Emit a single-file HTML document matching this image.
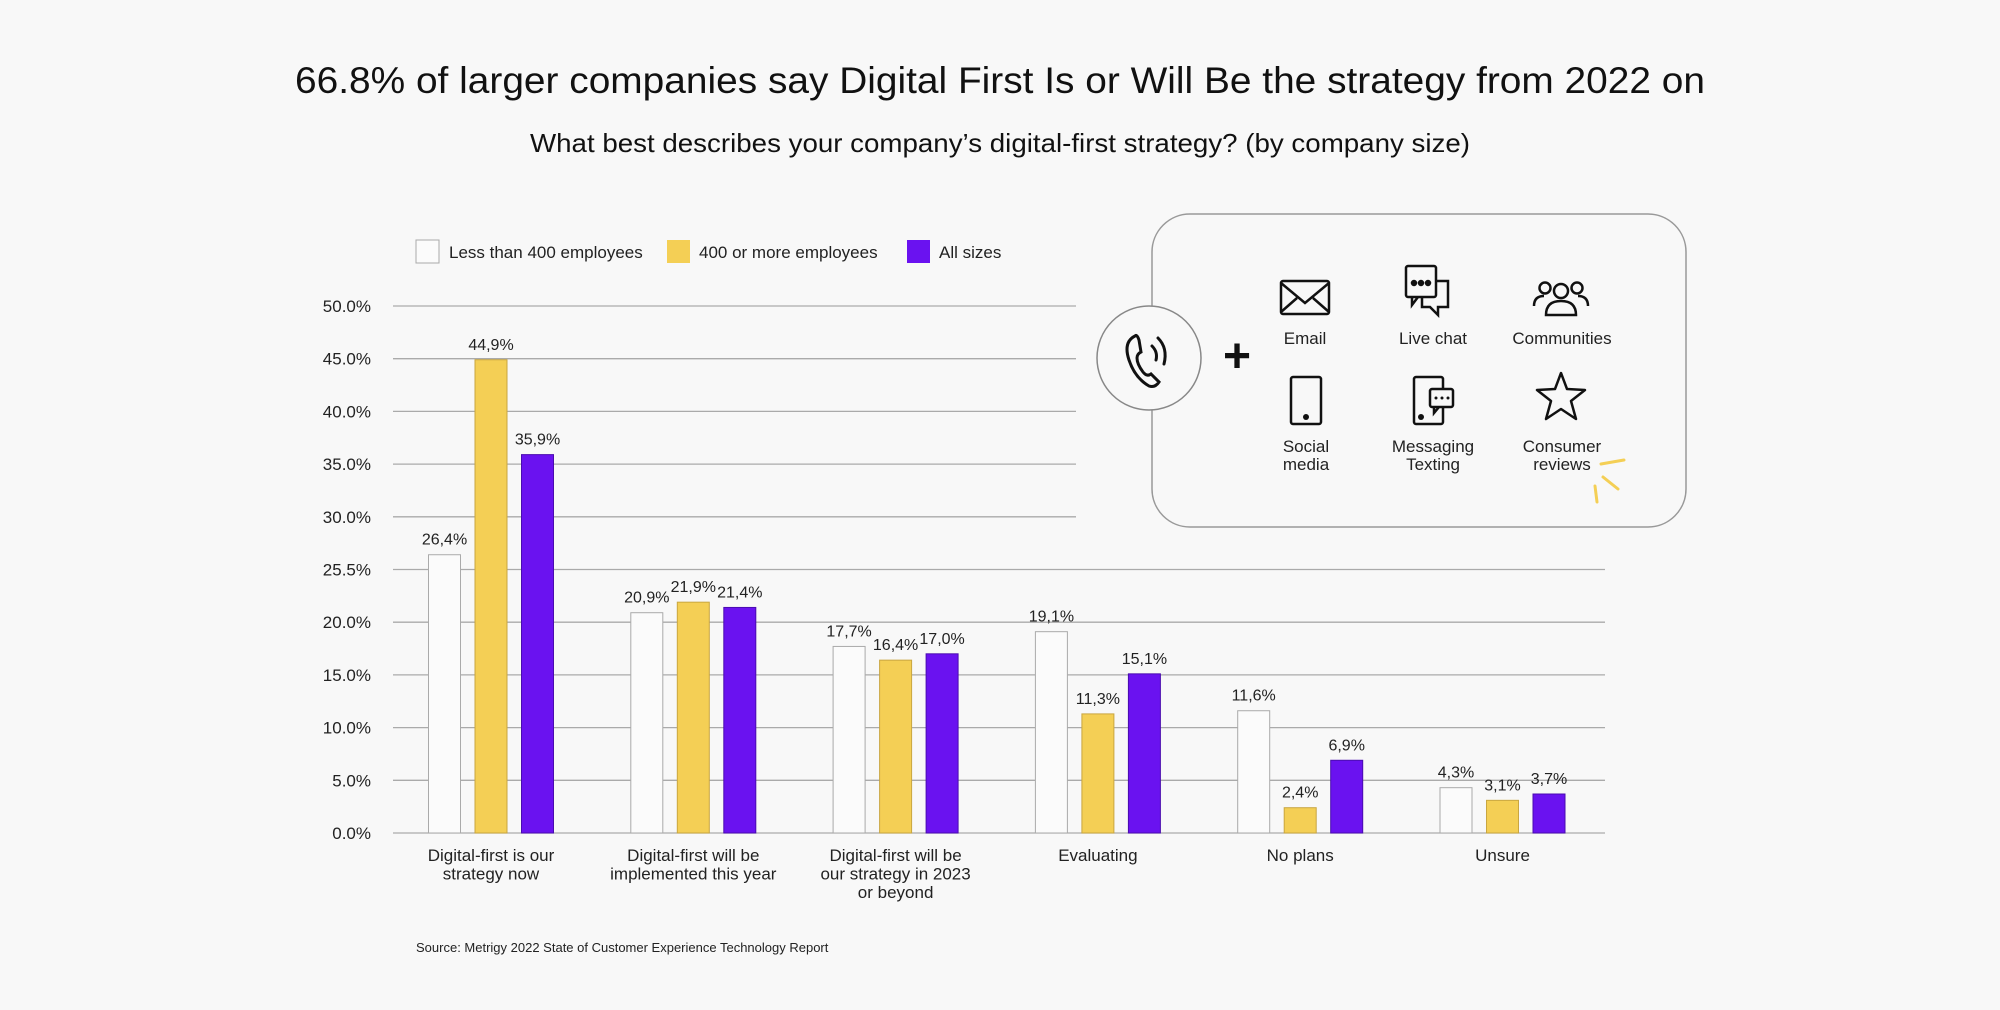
<!DOCTYPE html>
<html><head><meta charset="utf-8"><style>
html,body{margin:0;padding:0;background:#f8f8f8;}
svg{display:block;font-family:"Liberation Sans",sans-serif;}
</style></head><body>
<svg id="chart" width="2000" height="1010" viewBox="0 0 2000 1010">
<rect width="2000" height="1010" fill="#f8f8f8"/>
<text x="1000" y="93" text-anchor="middle" font-size="37" fill="#111" textLength="1410" lengthAdjust="spacingAndGlyphs">66.8% of larger companies say Digital First Is or Will Be the strategy from 2022 on</text>
<text x="1000" y="152" text-anchor="middle" font-size="26" fill="#111" textLength="940" lengthAdjust="spacingAndGlyphs">What best describes your company’s digital-first strategy? (by company size)</text>
<g id="grid"></g>
<g id="bars"></g>
<g>
 <g><rect x="416" y="240" width="23" height="23" fill="#fbfbfb" stroke="#aaa"/><text x="449" y="258" font-size="17" fill="#222">Less than 400 employees</text></g>
 <g><rect x="667" y="240" width="23" height="23" fill="#f4cf55"/><text x="699" y="258" font-size="17" fill="#222">400 or more employees</text></g>
 <g><rect x="907" y="240" width="23" height="23" fill="#6a12f0"/><text x="939" y="258" font-size="17" fill="#222">All sizes</text></g>
</g>
<g>
 <rect x="1152" y="214" width="534" height="313" rx="38" fill="#f8f8f8" stroke="#999" stroke-width="1.5"/>
 <circle cx="1149" cy="358" r="52" fill="#f8f8f8" stroke="#888" stroke-width="1.5"/>
 <g fill="none" stroke="#111" stroke-width="3" stroke-linecap="round">
  <path d="M1135 336 q-12 6 -6 24 q6 18 20 26 q6 2 10 -4 l-8 -8 q-4 3 -8 -2 q-6 -8 -6 -14 q0 -4 4 -6 l-2 -12 q-2 -6 -4 -4z"/>
  <path d="M1152 346 q6 6 4 14"/><path d="M1158 338 q10 10 6 26"/>
 </g>
 <text x="1237" y="372" text-anchor="middle" font-size="48" font-weight="bold" fill="#111">+</text>
 <g fill="none" stroke="#111" stroke-width="2.5">
  <rect x="1281" y="281" width="48" height="33" rx="2"/><path d="M1281 283 l24 20 l24 -20 M1281 312 l16 -14 M1329 312 l-16 -14"/>
  <rect x="1406" y="266" width="30" height="31" rx="2"/><path d="M1436 281 h12 v26 h-10 l0 8 l-8 -8 h-8 v-10"/>
  <path d="M1412 297 v8 l6 -8"/>
  <circle cx="1414" cy="283" r="2" fill="#111"/><circle cx="1421" cy="283" r="2" fill="#111"/><circle cx="1428" cy="283" r="2" fill="#111"/>
  <circle cx="1561" cy="291" r="7"/><path d="M1546 315 q0 -14 15 -14 q15 0 15 14z"/>
  <circle cx="1545" cy="288" r="5.5"/><circle cx="1577" cy="288" r="5.5"/><path d="M1534 306 q0 -10 10 -10 M1588 306 q0 -10 -10 -10"/>
  <rect x="1291" y="377" width="30" height="47" rx="2"/>
  <rect x="1414" y="377" width="29" height="47" rx="2"/><rect x="1430" y="389" width="23" height="18" rx="2" fill="#f8f8f8"/><path d="M1434 407 v6 l5 -6"/>
  <path d="M1561 373 l6 16 l18 1 l-14 11 l5 18 l-15 -10 l-15 10 l5 -18 l-14 -11 l18 -1z" stroke-linejoin="round"/>
 </g>
 <g fill="#111"><circle cx="1306" cy="417" r="3"/><circle cx="1421" cy="417" r="3"/><circle cx="1436" cy="398" r="1.5"/><circle cx="1442" cy="398" r="1.5"/><circle cx="1448" cy="398" r="1.5"/></g>
 <g stroke="#f4cf55" stroke-width="3" stroke-linecap="round"><path d="M1601 464 l23 -4 M1603 477 l15 12 M1595 486 l2 16"/></g>
 <g font-size="17" fill="#222" text-anchor="middle">
  <text x="1305" y="344">Email</text><text x="1433" y="344">Live chat</text><text x="1562" y="344">Communities</text>
  <text x="1306" y="452">Social</text><text x="1306" y="470">media</text>
  <text x="1433" y="452">Messaging</text><text x="1433" y="470">Texting</text>
  <text x="1562" y="452">Consumer</text><text x="1562" y="470">reviews</text>
 </g>
</g>
<text x="416" y="952" font-size="13" fill="#222">Source: Metrigy 2022 State of Customer Experience Technology Report</text>
</svg>
<script>
const categories = [["Digital-first is our","strategy now"],["Digital-first will be","implemented this year"],["Digital-first will be","our strategy in 2023","or beyond"],["Evaluating"],["No plans"],["Unsure"]];
const smallCo = [26.4, 20.9, 17.7, 19.1, 11.6, 4.3];
const largeCo = [44.9, 21.9, 16.4, 11.3, 2.4, 3.1];
const allSizes = [35.9, 21.4, 17.0, 15.1, 6.9, 3.7];
const smallLabels = ["26,4%","20,9%","17,7%","19,1%","11,6%","4,3%"];
const largeLabels = ["44,9%","21,9%","16,4%","11,3%","2,4%","3,1%"];
const allLabels = ["35,9%","21,4%","17,0%","15,1%","6,9%","3,7%"];
const yTicks = [0,5,10,15,20,25,30,35,40,45,50];
const yTickLabels = ["0.0%","5.0%","10.0%","15.0%","20.0%","25.5%","30.0%","35.0%","40.0%","45.0%","50.0%"];

const NS="http://www.w3.org/2000/svg";
const y0=833, yTop=306, xL=393, xR=1605;
function y(v){return y0-(v/50)*(y0-yTop);}
function xc(i){return 491+i*202.3;}
function mk(tag,attrs,parent){const e=document.createElementNS(NS,tag);for(const k in attrs)e.setAttribute(k,attrs[k]);parent.appendChild(e);return e;}
const grid=document.getElementById('grid'), bars=document.getElementById('bars');
yTicks.forEach((t,i)=>{
  const end = t>=30 ? 1076 : xR;
  const l=mk('line',{x1:xL,x2:end,y1:y(t),y2:y(t),stroke:'#aaa','stroke-width':1.3},grid);
  
  
  const tx=mk('text',{x:371,y:y(t)+6,'text-anchor':'end','font-size':17,fill:'#222'},grid);
  tx.textContent=yTickLabels[i];
  
  
});
const series=[[smallCo,smallLabels,'#fbfbfb','#aaa'],[largeCo,largeLabels,'#f4cf55','#c9a640'],[allSizes,allLabels,'#6a12f0','#4a0cb0']];
const bw=32, step=46.5;
categories.forEach((cat,i)=>{
  series.forEach((s,j)=>{
    const v=s[0][i], x=xc(i)+(j-1)*step-bw/2;
    const r=mk('rect',{x:x,y:y(v),width:bw,height:y0-y(v),fill:s[2],stroke:s[3],'stroke-width':1},bars);
    
    
    const t=mk('text',{x:x+bw/2,y:y(v)-10,'text-anchor':'middle','font-size':16,fill:'#222'},bars);
    t.textContent=s[1][i];
    
    
  });
  cat.forEach((line,k)=>{
    const t=mk('text',{x:xc(i),y:861+k*18.5,'text-anchor':'middle','font-size':17,fill:'#222'},bars);
    t.textContent=line;
    
    
  });
});
</script>
</body></html>
